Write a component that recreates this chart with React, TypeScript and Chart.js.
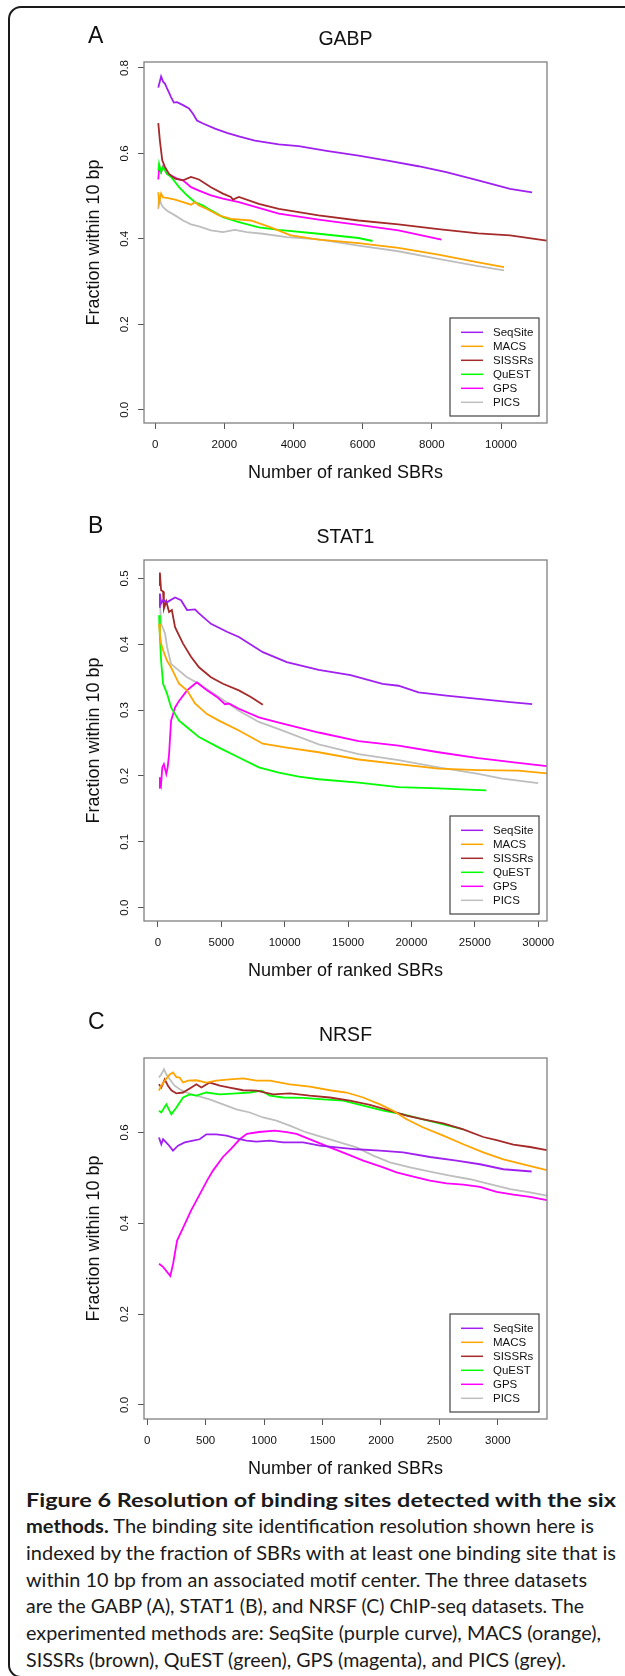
import React, { useEffect, useRef } from "react";
import { Chart, registerables } from "chart.js";

Chart.register(...registerables);

// ---------- data ----------
const METHODS = ["SeqSite", "MACS", "SISSRs", "QuEST", "GPS", "PICS"];
const COLORS = ["#A020F0", "#FFA500", "#A52A2A", "#00FF00", "#FF00FF", "#BEBEBE"];

const PANEL_LETTERS = ["A", "B", "C"];
const PANEL_TITLES = ["GABP", "STAT1", "NRSF"];
const X_TITLE = "Number of ranked SBRs";
const Y_TITLE = "Fraction within 10 bp";

const A_XTICKS = [0, 2000, 4000, 6000, 8000, 10000];
const A_YTICKS = [0, 0.2, 0.4, 0.6, 0.8];
const B_XTICKS = [0, 5000, 10000, 15000, 20000, 25000, 30000];
const B_YTICKS = [0, 0.1, 0.2, 0.3, 0.4, 0.5];
const C_XTICKS = [0, 500, 1000, 1500, 2000, 2500, 3000];
const C_YTICKS = [0, 0.2, 0.4, 0.6];

// GABP
const A_SEQSITE = [[92,0.754],[173,0.780],[230,0.768],[288,0.763],[346,0.752],[461,0.732],[542,0.719],[634,0.720],[807,0.713],[980,0.705],[1095,0.693],[1211,0.677],[1384,0.670],[1730,0.658],[2075,0.648],[2421,0.640],[2883,0.630],[3574,0.621],[4151,0.617],[4958,0.606],[5880,0.595],[6803,0.582],[7610,0.570],[8417,0.556],[9339,0.537],[10261,0.517],[10896,0.509]];
const A_MACS = [[92,0.509],[115,0.484],[173,0.506],[231,0.497],[346,0.496],[577,0.492],[807,0.486],[1038,0.480],[1153,0.486],[1268,0.478],[1499,0.470],[1845,0.455],[2191,0.447],[2767,0.443],[3344,0.427],[3920,0.408],[4727,0.398],[5880,0.390],[7033,0.379],[8186,0.363],[9339,0.345],[10088,0.334]];
const A_SISSRS = [[92,0.671],[138,0.630],[207,0.584],[288,0.568],[404,0.552],[577,0.541],[807,0.537],[1038,0.545],[1268,0.539],[1614,0.521],[1960,0.506],[2191,0.498],[2250,0.492],[2421,0.498],[2998,0.482],[3574,0.470],[4727,0.455],[5880,0.443],[7033,0.434],[8186,0.423],[9339,0.413],[10261,0.408],[11322,0.396]];
const A_QUEST = [[92,0.560],[115,0.576],[173,0.556],[231,0.568],[346,0.552],[461,0.545],[577,0.533],[692,0.521],[922,0.502],[1153,0.486],[1384,0.478],[1614,0.467],[1960,0.451],[2421,0.439],[2998,0.427],[3574,0.421],[4727,0.412],[5880,0.402],[6284,0.395]];
const A_GPS = [[92,0.539],[115,0.564],[173,0.556],[231,0.570],[346,0.552],[461,0.548],[634,0.541],[807,0.537],[1038,0.521],[1268,0.513],[1614,0.502],[1960,0.494],[2421,0.486],[3574,0.459],[4727,0.445],[5880,0.433],[7033,0.420],[8279,0.398]];
const A_PICS = [[92,0.470],[115,0.498],[173,0.482],[231,0.474],[346,0.466],[577,0.455],[807,0.443],[1038,0.434],[1268,0.429],[1614,0.420],[1960,0.416],[2306,0.421],[2652,0.416],[3113,0.412],[3805,0.404],[4727,0.399],[5880,0.384],[7033,0.371],[8186,0.353],[9339,0.336],[10088,0.326]];

// STAT1
const B_SEQSITE = [[94,0.457],[157,0.477],[252,0.462],[409,0.467],[724,0.464],[1353,0.471],[1825,0.467],[2297,0.452],[2927,0.453],[3241,0.447],[4185,0.431],[5444,0.419],[6388,0.411],[8277,0.388],[10165,0.373],[12683,0.361],[15200,0.353],[17718,0.340],[18977,0.337],[20550,0.327],[22753,0.322],[25271,0.317],[27788,0.312],[29519,0.309]];
const B_MACS = [[94,0.431],[157,0.416],[252,0.401],[409,0.391],[724,0.375],[1038,0.365],[1668,0.340],[2297,0.330],[2927,0.310],[3871,0.294],[4815,0.284],[6388,0.269],[8277,0.249],[10165,0.243],[12683,0.236],[15830,0.225],[18977,0.218],[22124,0.211],[25271,0.209],[28418,0.208],[30683,0.204]];
const B_SISSRS = [[94,0.490],[157,0.509],[252,0.482],[409,0.480],[472,0.454],[661,0.465],[881,0.449],[1101,0.452],[1353,0.426],[1983,0.401],[2612,0.381],[3241,0.365],[4185,0.350],[5130,0.340],[6388,0.330],[7332,0.320],[8277,0.308]];
const B_QUEST = [[94,0.444],[157,0.411],[252,0.375],[409,0.340],[724,0.325],[1038,0.304],[1668,0.284],[2297,0.274],[3241,0.259],[4815,0.243],[6388,0.228],[7962,0.213],[9536,0.205],[11110,0.199],[12683,0.195],[15830,0.190],[18977,0.183],[22124,0.181],[25900,0.178]];
const B_GPS = [[94,0.182],[157,0.198],[252,0.188],[346,0.213],[472,0.218],[661,0.203],[770,0.213],[881,0.233],[1038,0.284],[1353,0.304],[1668,0.314],[2297,0.330],[2927,0.340],[3084,0.342],[3871,0.330],[4657,0.320],[5287,0.309],[5600,0.310],[6388,0.302],[7962,0.289],[9536,0.281],[12683,0.266],[15830,0.253],[18977,0.246],[22124,0.236],[25271,0.227],[28418,0.220],[30683,0.215]];
const B_PICS = [[94,0.457],[157,0.467],[252,0.431],[409,0.424],[566,0.416],[724,0.396],[1038,0.370],[1668,0.360],[2297,0.350],[3241,0.340],[4815,0.320],[6388,0.299],[7962,0.282],[9536,0.271],[12683,0.248],[15830,0.233],[18977,0.224],[22124,0.213],[25271,0.203],[27159,0.196],[29991,0.189]];

// NRSF
const C_SEQSITE = [[101,0.589],[121,0.574],[136,0.585],[178,0.574],[221,0.560],[264,0.571],[321,0.578],[392,0.582],[449,0.585],[506,0.596],[592,0.596],[678,0.593],[763,0.587],[849,0.582],[935,0.580],[1049,0.582],[1163,0.578],[1334,0.578],[1477,0.571],[1620,0.567],[1791,0.563],[1991,0.560],[2190,0.556],[2419,0.546],[2647,0.538],[2847,0.530],[3047,0.519],[3289,0.514]];
const C_MACS = [[101,0.692],[121,0.703],[150,0.714],[193,0.728],[221,0.732],[250,0.722],[278,0.721],[307,0.710],[349,0.714],[421,0.715],[506,0.710],[592,0.714],[706,0.717],[820,0.719],[935,0.714],[1049,0.714],[1220,0.706],[1391,0.701],[1563,0.693],[1705,0.688],[1848,0.677],[1991,0.662],[2105,0.648],[2219,0.629],[2362,0.611],[2533,0.593],[2704,0.574],[2875,0.556],[3047,0.541],[3218,0.530],[3418,0.517]];
const C_SISSRS = [[101,0.706],[121,0.699],[150,0.717],[178,0.703],[207,0.693],[250,0.686],[307,0.688],[378,0.699],[421,0.706],[464,0.699],[535,0.710],[621,0.703],[706,0.699],[820,0.693],[935,0.692],[1077,0.684],[1220,0.686],[1391,0.681],[1563,0.677],[1734,0.670],[1905,0.661],[2076,0.648],[2219,0.637],[2362,0.629],[2533,0.620],[2704,0.607],[2875,0.590],[2989,0.583],[3132,0.573],[3275,0.568],[3418,0.561]];
const C_QUEST = [[101,0.648],[121,0.644],[164,0.662],[207,0.640],[250,0.655],[307,0.677],[364,0.684],[421,0.681],[506,0.688],[621,0.684],[763,0.686],[878,0.688],[978,0.692],[1049,0.681],[1163,0.677],[1334,0.676],[1506,0.673],[1677,0.670],[1848,0.659],[2019,0.648],[2190,0.640],[2362,0.629],[2533,0.618],[2704,0.607]];
const C_GPS = [[102,0.311],[136,0.304],[198,0.284],[222,0.311],[256,0.362],[307,0.390],[375,0.428],[421,0.450],[512,0.494],[563,0.516],[648,0.546],[717,0.564],[792,0.585],[853,0.597],[955,0.601],[1092,0.604],[1194,0.601],[1277,0.597],[1420,0.582],[1563,0.567],[1705,0.553],[1848,0.538],[2019,0.523],[2133,0.512],[2276,0.503],[2419,0.494],[2561,0.488],[2704,0.485],[2847,0.480],[2989,0.469],[3132,0.463],[3275,0.458],[3418,0.451]];
const C_PICS = [[101,0.721],[121,0.728],[144,0.739],[164,0.728],[193,0.717],[235,0.703],[278,0.695],[335,0.688],[421,0.681],[535,0.673],[649,0.662],[763,0.651],[878,0.644],[992,0.633],[1106,0.626],[1220,0.615],[1363,0.600],[1506,0.589],[1648,0.578],[1791,0.567],[1934,0.549],[2076,0.534],[2248,0.523],[2419,0.514],[2590,0.505],[2761,0.497],[2932,0.486],[3104,0.475],[3275,0.468],[3418,0.461]];

const CAPTION_LINES = [
  { bold: "Figure 6 Resolution of binding sites detected with the six", rest: "" },
  { bold: "methods.", rest: " The binding site identification resolution shown here is" },
  { bold: "", rest: "indexed by the fraction of SBRs with at least one binding site that is" },
  { bold: "", rest: "within 10 bp from an associated motif center. The three datasets" },
  { bold: "", rest: "are the GABP (A), STAT1 (B), and NRSF (C) ChIP-seq datasets. The" },
  { bold: "", rest: "experimented methods are: SeqSite (purple curve), MACS (orange)," },
  { bold: "", rest: "SISSRs (brown), QuEST (green), GPS (magenta), and PICS (grey)." },
];
const CAPTION_WIDTHS = [590, 568, 590, 561, 558, 575, 540];

// ---------- panels ----------
const PANELS = [
  { top: 0, letterY: 43, series: [A_SEQSITE, A_MACS, A_SISSRS, A_QUEST, A_GPS, A_PICS], xMin: -321, xMax: 11329, xTicks: A_XTICKS, yMin: -0.031, yMax: 0.814, yTicks: A_YTICKS },
  { top: 498, letterY: 35, series: [B_SEQSITE, B_MACS, B_SISSRS, B_QUEST, B_GPS, B_PICS], xMin: -1096, xMax: 30690, xTicks: B_XTICKS, yMin: -0.0203, yMax: 0.528, yTicks: B_YTICKS },
  { top: 996, letterY: 33, series: [C_SEQSITE, C_MACS, C_SISSRS, C_QUEST, C_GPS, C_PICS], xMin: -27, xMax: 3420, xTicks: C_XTICKS, yMin: -0.031, yMax: 0.764, yTicks: C_YTICKS },
];

const FAMILY = '"Liberation Sans", Arial, Helvetica, sans-serif';

const framePlugin = {
  id: "frame",
  afterDatasetsDraw(chart: any, _args: any, opts: any) {
    const { ctx, chartArea: a } = chart;
    ctx.save();
    ctx.strokeStyle = "#808080";
    ctx.lineWidth = 1.3;
    ctx.strokeRect(a.left, a.top, a.right - a.left, a.bottom - a.top);

    const lw = 89, lh = 98;
    const lx = a.right - 8 - lw;
    const ly = a.bottom - 7 - lh;
    ctx.fillStyle = "#ffffff";
    ctx.fillRect(lx, ly, lw, lh);
    ctx.strokeStyle = "#444444";
    ctx.lineWidth = 1.2;
    ctx.strokeRect(lx, ly, lw, lh);
    ctx.font = `11.5px ${FAMILY}`;
    ctx.textBaseline = "middle";
    ctx.textAlign = "left";
    METHODS.forEach((m, i) => {
      const y = ly + 14.3 + 14 * i;
      ctx.strokeStyle = COLORS[i];
      ctx.lineWidth = 1.5;
      ctx.beginPath();
      ctx.moveTo(lx + 11, y);
      ctx.lineTo(lx + 33, y);
      ctx.stroke();
      ctx.fillStyle = "#111111";
      ctx.fillText(m, lx + 43, y + 0.5);
    });

    ctx.font = `23px ${FAMILY}`;
    ctx.textBaseline = "alphabetic";
    ctx.fillStyle = "#111111";
    ctx.fillText(opts.letter, 88, opts.letterY);
    ctx.restore();
  },
};

function Panel({ index }: { index: number }) {
  const ref = useRef<HTMLCanvasElement | null>(null);
  const p = PANELS[index];
  useEffect(() => {
    if (!ref.current) return;
    const chart = new Chart(ref.current, {
      type: "line",
      data: {
        datasets: p.series.map((s, i) => ({
          label: METHODS[i],
          data: s.map(([x, y]) => ({ x, y })),
          borderColor: COLORS[i],
          backgroundColor: COLORS[i],
          borderWidth: 1.8,
          pointRadius: 0,
          fill: false,
          tension: 0,
        })),
      },
      options: {
        responsive: false,
        animation: false,
        devicePixelRatio: 1,
        layout: { padding: { left: 80, right: 78, top: 0, bottom: 13 } },
        plugins: {
          legend: { display: false },
          tooltip: { enabled: false },
          title: {
            display: true,
            text: PANEL_TITLES[index],
            fullSize: false,
            color: "#111111",
            font: { size: 19.5, family: FAMILY, weight: "normal" },
            padding: { top: 28.3, bottom: 10.3 },
          },
          frame: { letter: PANEL_LETTERS[index], letterY: p.letterY },
        } as any,
        scales: {
          x: {
            type: "linear",
            position: "bottom",
            min: p.xMin,
            max: p.xMax,
            afterBuildTicks: (s: any) => { s.ticks = p.xTicks.map((v) => ({ value: v })); },
            afterFit: (s: any) => { s.height = 62; },
            ticks: {
              callback: (v: any) => String(v),
              font: { size: 11.5, family: FAMILY },
              color: "#111111",
              padding: 9,
              maxRotation: 0,
              autoSkip: false,
            },
            grid: { drawOnChartArea: false, drawTicks: true, tickLength: 6, tickColor: "#555555", lineWidth: 1 },
            border: { display: false },
            title: {
              display: true,
              text: X_TITLE,
              color: "#111111",
              font: { size: 18, family: FAMILY },
              padding: { top: 0, bottom: 0.8 },
            },
          },
          y: {
            type: "linear",
            position: "left",
            min: p.yMin,
            max: p.yMax,
            afterBuildTicks: (s: any) => { s.ticks = p.yTicks.map((v) => ({ value: v })); },
            afterFit: (s: any) => { s.width = 64; },
            ticks: {
              callback: (v: any) => Number(v).toFixed(1),
              font: { size: 11.5, family: FAMILY },
              color: "#111111",
              minRotation: 90,
              maxRotation: 90,
              crossAlign: "center",
              padding: 5.3,
              autoSkip: false,
            },
            grid: { drawOnChartArea: false, drawTicks: true, tickLength: 6, tickColor: "#555555", lineWidth: 1 },
            border: { display: false },
            title: {
              display: true,
              text: Y_TITLE,
              color: "#111111",
              font: { size: 18, family: FAMILY },
              padding: { top: 3.6, bottom: 0 },
            },
          },
        },
      } as any,
      plugins: [framePlugin as any],
    });
    return () => chart.destroy();
  }, [index]);
  return (
    <canvas
      ref={ref}
      width={625}
      height={498}
      style={{ position: "absolute", left: 0, top: p.top, width: 625, height: 498 }}
    />
  );
}

export default function App() {
  return (
    <div style={{ position: "absolute", left: 0, top: 0, width: 625, height: 1676, overflow: "hidden", background: "#ffffff" }}>
      <svg width={625} height={1676} style={{ position: "absolute", left: 0, top: 0 }}>
        <rect x={9} y={7} width={700} height={1670} rx={12} ry={12} fill="none" stroke="#1a1a1a" strokeWidth={2} />
        {CAPTION_LINES.map((ln, i) => (
          <text
            key={i}
            x={26}
            y={1506.7 + 26.67 * i}
            textLength={CAPTION_WIDTHS[i]}
            lengthAdjust="spacingAndGlyphs"
            fontFamily="Lato, 'Open Sans', sans-serif"
            fontSize={18.5}
            fill="#1a1a1a"
          >
            {ln.bold ? <tspan fontWeight="bold">{ln.bold}</tspan> : null}
            {ln.rest ? <tspan>{ln.rest}</tspan> : null}
          </text>
        ))}
      </svg>
      <Panel index={0} />
      <Panel index={1} />
      <Panel index={2} />
    </div>
  );
}
